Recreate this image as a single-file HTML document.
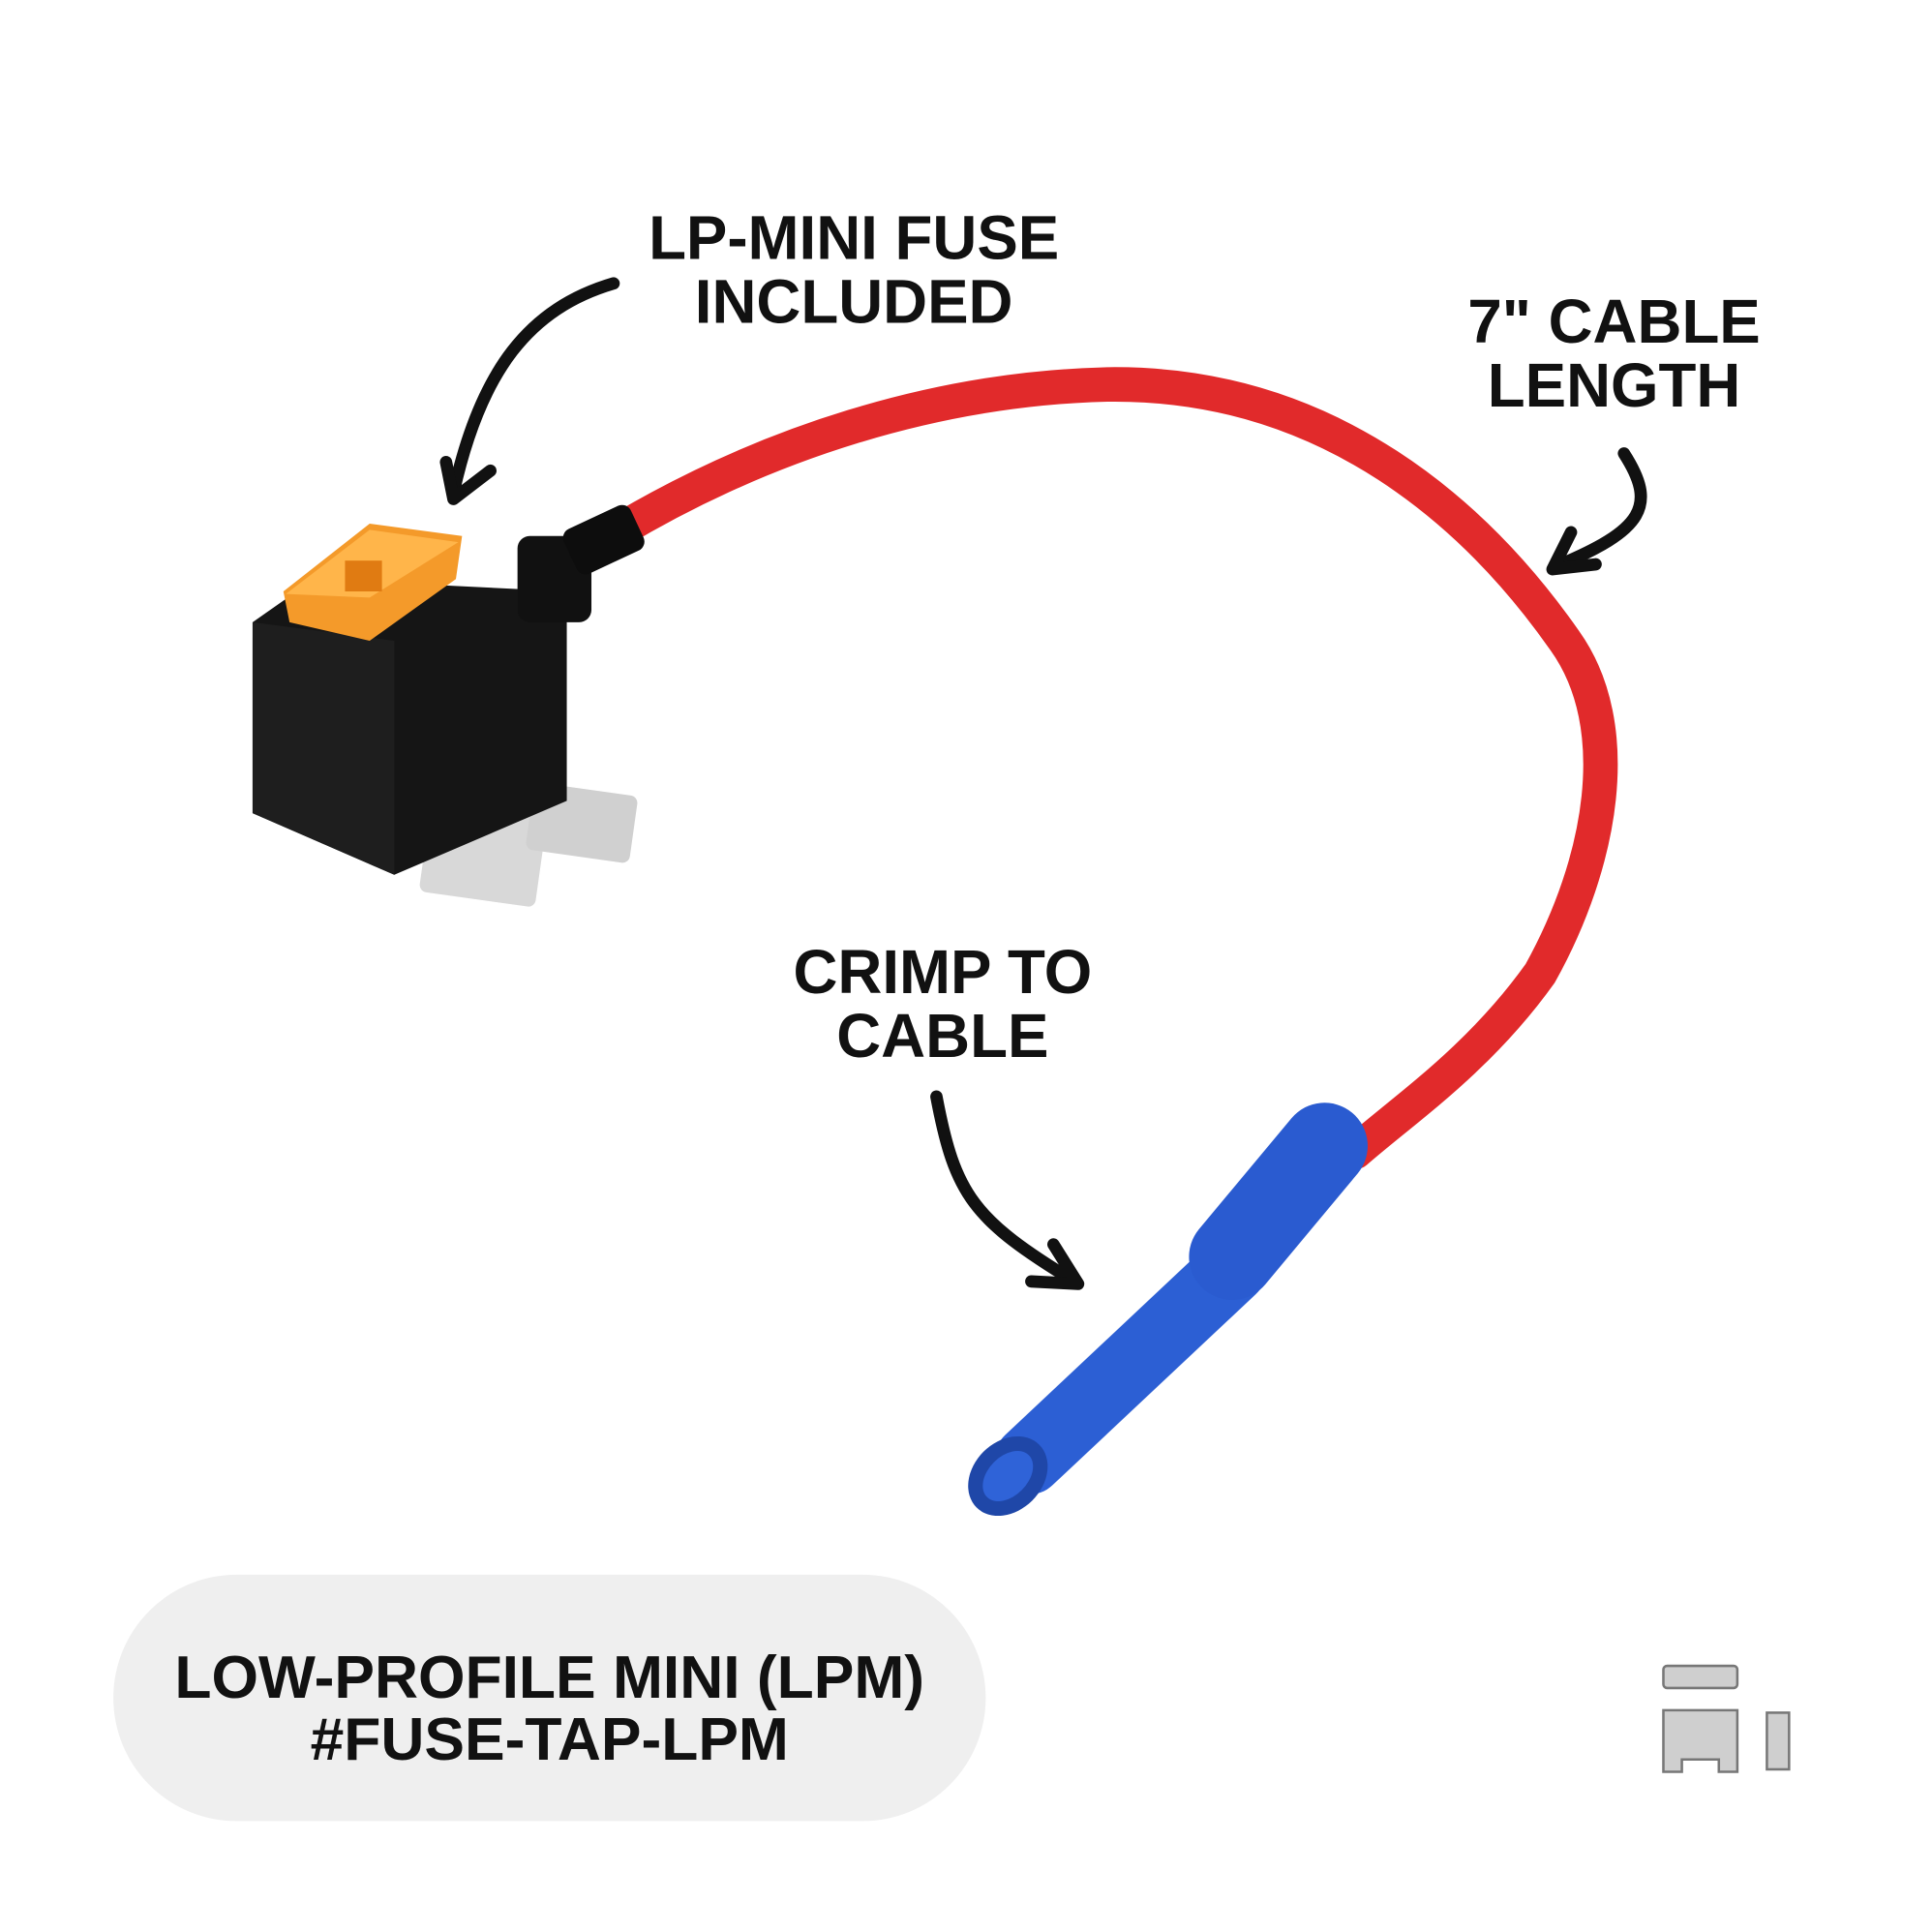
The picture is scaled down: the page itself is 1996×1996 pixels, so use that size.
<!DOCTYPE html>
<html><head><meta charset="utf-8"><style>
html,body{margin:0;padding:0;background:#fff}
svg{display:block}
text{font-family:"Liberation Sans",Arial,sans-serif;font-weight:bold;fill:#111;text-anchor:middle}
</style></head><body>
<svg width="1996" height="1996" viewBox="0 0 1568 1568" xmlns="http://www.w3.org/2000/svg">
<rect width="1568" height="1568" fill="#fff"/>
<!-- pill -->
<rect x="92" y="1278" width="708" height="200" rx="100" fill="#efefef"/>
<text x="446" y="1378" font-size="49">LOW-PROFILE MINI (LPM)</text>
<text x="446" y="1428" font-size="49">#FUSE-TAP-LPM</text>
<!-- labels -->
<text x="693" y="210" font-size="50">LP-MINI FUSE</text>
<text x="693" y="262" font-size="50">INCLUDED</text>
<text x="1310" y="278" font-size="50">7" CABLE</text>
<text x="1310" y="330" font-size="50">LENGTH</text>
<text x="765" y="806" font-size="50">CRIMP TO</text>
<text x="765" y="858" font-size="50">CABLE</text>
<!-- arrows -->
<g fill="none" stroke="#111" stroke-width="10" stroke-linecap="round" stroke-linejoin="round">
<path d="M498 230 C430 250 390 300 368 400"/>
<path d="M362 375 L368 405 L398 382"/>
<path d="M1318 368 C1345 410 1335 430 1262 460"/>
<path d="M1275 432 L1260 462 L1295 458"/>
<path d="M760 890 C775 970 790 990 872 1040"/>
<path d="M855 1010 L875 1042 L837 1040"/>
</g>
<!-- cable -->
<path d="M500 432 C620 360 760 315 900 312 C1080 310 1200 420 1270 520 C1320 590 1300 700 1250 790 C1200 860 1140 900 1100 935" fill="none" stroke="#e12a2b" stroke-width="28" stroke-linecap="round"/>
<!-- blue connector -->
<path d="M1000 1030 L835 1185" fill="none" stroke="#2c5fd4" stroke-width="56" stroke-linecap="round"/>
<path d="M1075 930 L1000 1020" fill="none" stroke="#2a5bd0" stroke-width="70" stroke-linecap="round"/>
<ellipse cx="818" cy="1198" rx="36" ry="28" transform="rotate(-45 818 1198)" fill="#1f47a8"/>
<ellipse cx="818" cy="1198" rx="24" ry="16" transform="rotate(-45 818 1198)" fill="#2f63d8"/>
<!-- fuse tap -->
<rect x="345" y="640" width="95" height="90" rx="6" fill="#d8d8d8" transform="rotate(8 390 690)"/>
<rect x="430" y="640" width="85" height="55" rx="6" fill="#d0d0d0" transform="rotate(8 470 665)"/>
<path d="M205 505 L255 470 L460 480 L460 650 L320 710 L205 660 Z" fill="#151515"/>
<path d="M205 505 L320 520 L320 710 L205 660 Z" fill="#1e1e1e"/>
<rect x="420" y="435" width="60" height="70" rx="10" fill="#111"/>
<rect x="460" y="418" width="60" height="40" rx="8" fill="#0d0d0d" transform="rotate(-25 490 438)"/>
<path d="M230 480 L300 425 L375 435 L370 470 L300 520 L235 505 Z" fill="#f49a2a"/>
<path d="M232 482 L300 430 L372 440 L300 485 Z" fill="#ffb54a"/>
<rect x="280" y="455" width="30" height="25" fill="#e07b12"/>
<!-- bottom right fuse icon -->
<g fill="#cfcfcf" stroke="#777" stroke-width="2">
<rect x="1350" y="1352" width="60" height="18" rx="3"/>
<path d="M1350 1388 H1410 V1438 H1395 V1428 H1365 V1438 H1350 Z"/>
<rect x="1434" y="1390" width="18" height="46"/>
</g>
</svg>
</body></html>
